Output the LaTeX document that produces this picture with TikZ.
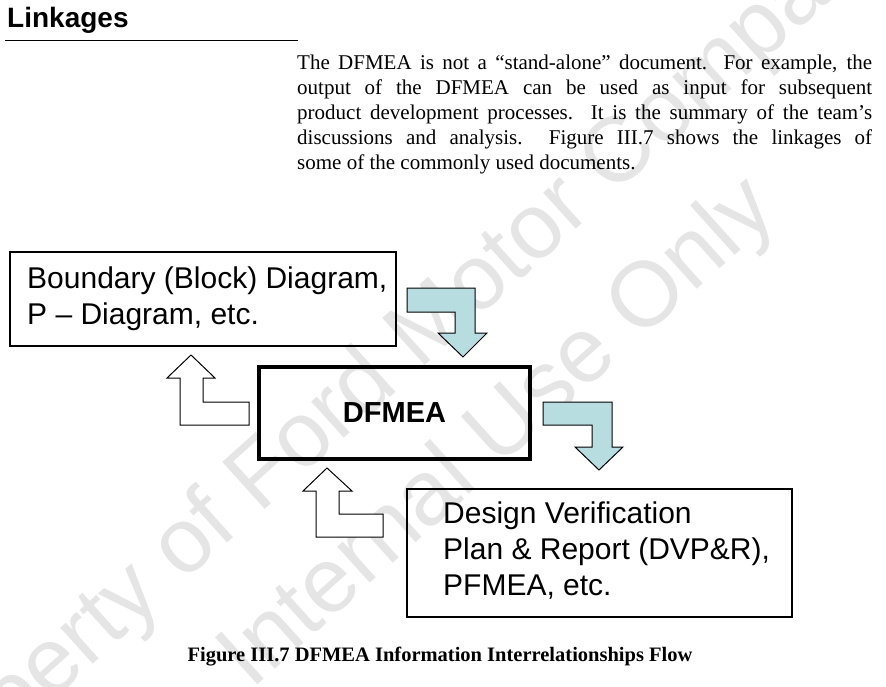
\documentclass[tikz,border=0pt]{standalone}
\usepackage{fontspec}
\setmainfont{Liberation Serif}
\setsansfont{Liberation Sans}
\definecolor{abl}{HTML}{B8DDE0}
\begin{document}
\begin{tikzpicture}[x=1pt,y=-1pt,
  box/.style={draw,line width=1.3pt,inner sep=0pt},
  wm/.style={text=black!10,font=\sffamily\fontsize{92}{92}\selectfont,rotate=42},
  barrow/.style={draw,line width=1pt,fill=abl,line join=miter},
  warrow/.style={draw,line width=1pt,fill=white,line join=miter}]
\useasboundingbox (0,0) rectangle (886,687);
\node[wm] (wm1) at (390,365) {Property of Ford Motor Company};
\node[wm] (wm2) at (500,435) {Internal Use Only};
\node[anchor=base west,font=\sffamily\bfseries\fontsize{28}{28}\selectfont,inner sep=0pt] (title) at (7,28) {Linkages};
\coordinate (u1) at (5,40); \coordinate (u2) at (298,40);
\draw[line width=0.8pt] (u1) -- (u2);
\node[anchor=north west,inner sep=0pt,text width=575pt,align=justify,font=\fontsize{21}{25}\selectfont] (para) at (297,55)
{\hyphenpenalty=10000 The DFMEA is not a “stand-alone” document. For example, the\linebreak output of the DFMEA can be used as input for subsequent\linebreak product development processes. It is the summary of the team’s\linebreak discussions and analysis.\ \ Figure III.7 shows the linkages of\linebreak some of the commonly used documents.};
\draw[box] (10,252) rectangle (396,346);
\node[anchor=north west,inner sep=0pt,align=left,font=\sffamily\fontsize{30}{36}\selectfont] (b1) at (27,267) {Boundary (Block) Diagram,\\P – Diagram, etc.};
\draw[draw,line width=4pt] (259,367) rectangle (530,459);
\node[font=\sffamily\bfseries\fontsize{29}{29}\selectfont] (dfmea) at (394.5,413) {DFMEA};
\draw[box] (407,489) rectangle (792,617);
\node[anchor=north west,inner sep=0pt,align=left,font=\sffamily\fontsize{30}{36}\selectfont] (b3) at (443,502) {Design Verification\\Plan \& Report (DVP\&R),\\PFMEA, etc.};
% blue arrows
\draw[barrow] (407,288) -- (475,288) -- (475,333) -- (487,333) -- (463,357) -- (438,333) -- (455,333) -- (455,312) -- (407,312) -- cycle;
\draw[barrow] (543,402) -- (612,402) -- (612,447) -- (623,447) -- (599,470) -- (575,447) -- (592,447) -- (592,425) -- (543,425) -- cycle;
% white arrows
\draw[warrow] (249,402) -- (203,402) -- (203,378) -- (215,378) -- (191,355) -- (167,378) -- (180,378) -- (180,425) -- (249,425) -- cycle;
\draw[warrow] (383,514) -- (339,514) -- (339,491) -- (352,491) -- (327,468) -- (303,491) -- (316,491) -- (316,537) -- (383,537) -- cycle;
\node[font=\bfseries\fontsize{20.5}{20.5}\selectfont] (cap) at (440,657) {Figure III.7 DFMEA Information Interrelationships Flow};
\end{tikzpicture}
\end{document}
